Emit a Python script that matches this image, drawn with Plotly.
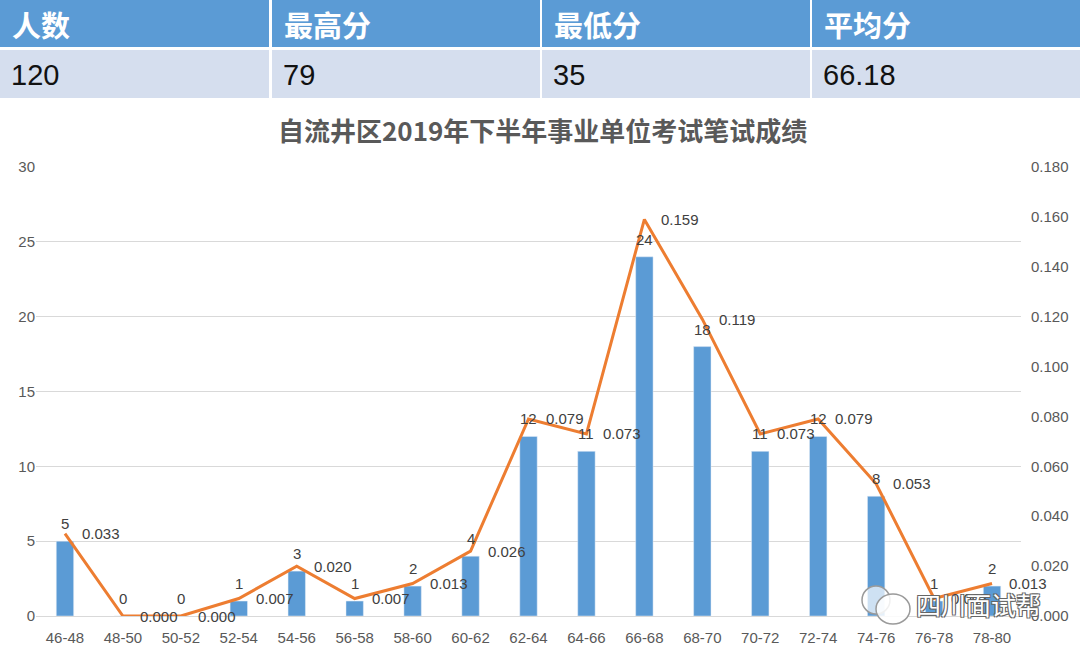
import plotly.graph_objects as go

categories = ["46-48","48-50","50-52","52-54","54-56","56-58","58-60","60-62","62-64",
              "64-66","66-68","68-70","70-72","72-74","74-76","76-78","78-80"]
counts = [5,0,0,1,3,1,2,4,12,11,24,18,11,12,8,1,2]
ratios = [0.033,0.000,0.000,0.007,0.020,0.007,0.013,0.026,0.079,0.073,0.159,0.119,0.073,0.079,0.053,0.007,0.013]

table_headers = ["人数","最高分","最低分","平均分"]
table_values = ["120","79","35","66.18"]
title_text = "自流井区2019年下半年事业单位考试笔试成绩"

W, H = 1080, 651
L, R, T, B = 36, 59, 167, 35
PW, PH = W - L - R, H - T - B

def px(x):
    return (x - L) / PW

def py(y):
    return (H - B - y) / PH

FONT = "Liberation Sans, Noto Sans CJK SC, Arial, sans-serif"
CJK = "Noto Sans CJK SC, sans-serif"
LABEL = "#404040"
TICK = "#595959"
BLUE = "#5b9bd5"
ORANGE = "#ed7d31"

fig = go.Figure()
fig.add_trace(go.Bar(
    x=categories, y=counts, width=0.3, marker_color=BLUE,
    yaxis="y", showlegend=False))
fig.add_trace(go.Scatter(
    x=categories, y=ratios, mode="lines", line=dict(color=ORANGE, width=3),
    yaxis="y2", showlegend=False))

for c, n in zip(categories, counts):
    fig.add_annotation(x=c, y=n, xref="x", yref="y", text=str(n), showarrow=False,
                       xanchor="center", yanchor="bottom", yshift=7,
                       font=dict(size=15, color=LABEL, family=FONT))
for c, r in zip(categories, ratios):
    fig.add_annotation(x=c, y=r, xref="x", yref="y2", text=f"{r:.3f}",
                       showarrow=False, xanchor="left", yanchor="middle", xshift=15,
                       font=dict(size=15, color=LABEL, family=FONT))

shapes = []
annotations = []
cols = [(0, 269), (272, 540), (542, 810), (812, 1080)]
for i, (x0, x1) in enumerate(cols):
    shapes.append(dict(type="rect", xref="paper", yref="paper", x0=px(x0), x1=px(x1),
                       y0=py(47), y1=py(0), fillcolor="#5b9bd5", line=dict(width=0), layer="above"))
    shapes.append(dict(type="rect", xref="paper", yref="paper", x0=px(x0), x1=px(x1),
                       y0=py(98), y1=py(50), fillcolor="#d5deee", line=dict(width=0), layer="above"))
    annotations.append(dict(xref="paper", yref="paper", x=px(x0 + 10), y=py(24),
                            text=f"<b>{table_headers[i]}</b>", showarrow=False, xanchor="left",
                            yanchor="middle", font=dict(size=29, color="white", family=CJK)))
    annotations.append(dict(xref="paper", yref="paper", x=px(x0 + 9), y=py(75),
                            text=table_values[i], showarrow=False, xanchor="left",
                            yanchor="middle", font=dict(size=29, color="#111111", family=FONT)))

annotations.append(dict(xref="paper", yref="paper", x=px(542), y=py(130),
                        text=f"<b>{title_text}</b>", showarrow=False, xanchor="center",
                        yanchor="middle", font=dict(size=26, color=TICK, family=CJK)))
# watermark
shapes.append(dict(type="circle", xref="paper", yref="paper", x0=px(862), x1=px(890),
                   y0=py(614), y1=py(586), line=dict(color="#9a9a9a", width=1.5),
                   fillcolor="rgba(255,255,255,0.7)", layer="above"))
shapes.append(dict(type="circle", xref="paper", yref="paper", x0=px(876), x1=px(910),
                   y0=py(624), y1=py(594), line=dict(color="#9a9a9a", width=1.5),
                   fillcolor="rgba(255,255,255,0.85)", layer="above"))
annotations.append(dict(xref="paper", yref="paper", x=px(914), y=py(604),
                        text="四川面试帮", showarrow=False, xanchor="left", yanchor="middle",
                        font=dict(size=25, color="white", family=CJK,
                                  shadow="1px 1px 0 #666, -1px -1px 0 #666, 1px -1px 0 #666, -1px 1px 0 #666")))

for a in annotations:
    fig.add_annotation(**a)

fig.update_layout(
    width=W, height=H, margin=dict(l=L, r=R, t=T, b=B, autoexpand=False),
    paper_bgcolor="white", plot_bgcolor="white", shapes=shapes,
    xaxis=dict(type="category", range=[-0.5, len(categories) - 0.5], showgrid=False,
               showline=True, linecolor="#d9d9d9",
               linewidth=1, ticks="", ticklabelstandoff=8,
               tickfont=dict(size=15, color=TICK, family=FONT)),
    yaxis=dict(range=[0, 30], dtick=5, showgrid=True, gridcolor="#d9d9d9", zeroline=False,
               showline=False, ticks="", tickfont=dict(size=15, color=TICK, family=FONT)),
    yaxis2=dict(range=[0, 0.18], dtick=0.02, tickformat=".3f", overlaying="y", side="right",
                showgrid=False, zeroline=False, showline=False, ticks="", ticklabelstandoff=9,
                tickfont=dict(size=15, color=TICK, family=FONT)),
    font=dict(family=FONT),
)

fig.write_html("out.html", config={"displayModeBar": False},
               post_script="document.body.style.margin='0';")
